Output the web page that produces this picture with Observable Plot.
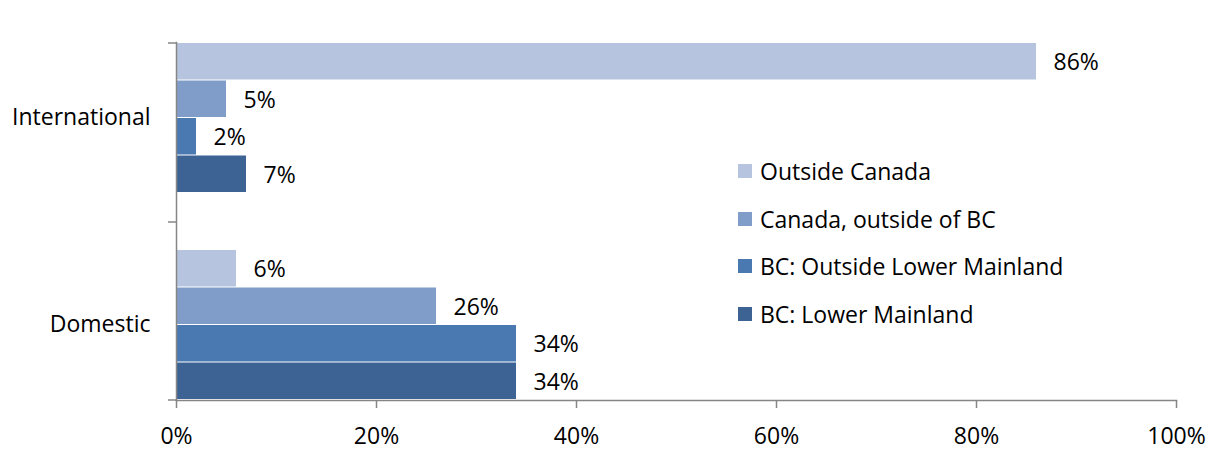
<!DOCTYPE html>
<html>
<head>
<meta charset="utf-8">
<script src="https://cdn.jsdelivr.net/npm/d3@7"></script>
<script src="https://cdn.jsdelivr.net/npm/@observablehq/plot@0.6"></script>
<style>
  html, body { margin: 0; padding: 0; background: #fff; }
  #wrap { position: relative; width: 1213px; height: 476px; font-family: "Open Sans", sans-serif; }
  #legend { position: absolute; left: 738px; top: 147px; font-size: 23px; color: #000; }
  #legend .item { display: flex; align-items: center; height: 47.7px; white-space: nowrap; }
  #legend .sw { width: 14px; height: 14px; margin-right: 8px; flex: none; }
</style>
</head>
<body>
<div id="wrap"><div id="legend"></div></div>
<script>
const categories = ["International", "Domestic"];
const series = ["Outside Canada", "Canada, outside of BC", "BC: Outside Lower Mainland", "BC: Lower Mainland"];
const colors = ["#B6C4DF", "#7F9DC8", "#4A78B1", "#3C6394"];
const internationalValues = [86, 5, 2, 7];
const domesticValues = [6, 26, 34, 34];
const xTicks = [0, 20, 40, 60, 80, 100];

const valuesByCategory = {International: internationalValues, Domestic: domesticValues};
const data = [];
for (const c of categories) {
  series.forEach((s, i) => data.push({category: c, series: s, index: i, value: valuesByCategory[c][i]}));
}

const H = 476, marginTop = 42, marginBottom = 76;
const plotH = H - marginTop - marginBottom;            // 358
const gapPad = 0.2788;                                   // inner padding between categories
const step = plotH / (categories.length - gapPad);
const bandwidth = step * (1 - gapPad);
const sub = bandwidth / series.length;
const FS = 23;

const axisColor = "#868686";
const marks = [];
series.forEach((s, i) => {
  const rows = data.filter(d => d.index === i);
  marks.push(Plot.barX(rows, {
    x: "value", y: "category", fill: colors[i],
    insetTop: i * sub, insetBottom: (series.length - 1 - i) * sub
  }));
  marks.push(Plot.text(rows, {
    x: "value", y: "category", text: d => d.value + "%",
    dy: (i - (series.length - 1) / 2) * sub + 1, dx: 17,
    textAnchor: "start", fontSize: FS, fill: "#000"
  }));
});

marks.push(
  Plot.frame({anchor: "left", stroke: axisColor, strokeWidth: 1.5}),
  Plot.frame({anchor: "bottom", stroke: axisColor, strokeWidth: 1.5}),
  Plot.axisX({ticks: xTicks, tickFormat: d => d + "%", tickSize: 8, tickPadding: 19,
              stroke: axisColor, strokeWidth: 1.5, fontSize: FS, fill: "#000", label: null}),
  Plot.axisY({tickSize: 0, tickPadding: 26, fontSize: FS, fill: "#000", label: null}),
  // category boundary ticks on the y axis
  Plot.axisY({ticks: [categories[0]], tickFormat: () => "", tickSize: 8, stroke: axisColor, strokeWidth: 1.5, dy: -bandwidth / 2, label: null}),
  Plot.axisY({ticks: [categories[0]], tickFormat: () => "", tickSize: 8, stroke: axisColor, strokeWidth: 1.5, dy: bandwidth / 2 + step * gapPad / 2, label: null}),
  Plot.axisY({ticks: [categories[1]], tickFormat: () => "", tickSize: 8, stroke: axisColor, strokeWidth: 1.5, dy: bandwidth / 2, label: null})
);

const chart = Plot.plot({
  width: 1213, height: H,
  marginLeft: 176, marginRight: 37, marginTop, marginBottom,
  style: {fontFamily: "'Open Sans', sans-serif", fontSize: FS + "px", color: "#000", background: "#fff"},
  x: {domain: [0, 100]},
  y: {domain: categories, paddingInner: gapPad, paddingOuter: 0},
  marks
});
document.getElementById("wrap").prepend(chart);

const legend = document.getElementById("legend");
series.forEach((s, i) => {
  const item = document.createElement("div");
  item.className = "item";
  const sw = document.createElement("span");
  sw.className = "sw"; sw.style.background = colors[i];
  const t = document.createElement("span"); t.textContent = s;
  item.append(sw, t);
  legend.append(item);
});
</script>
</body>
</html>
